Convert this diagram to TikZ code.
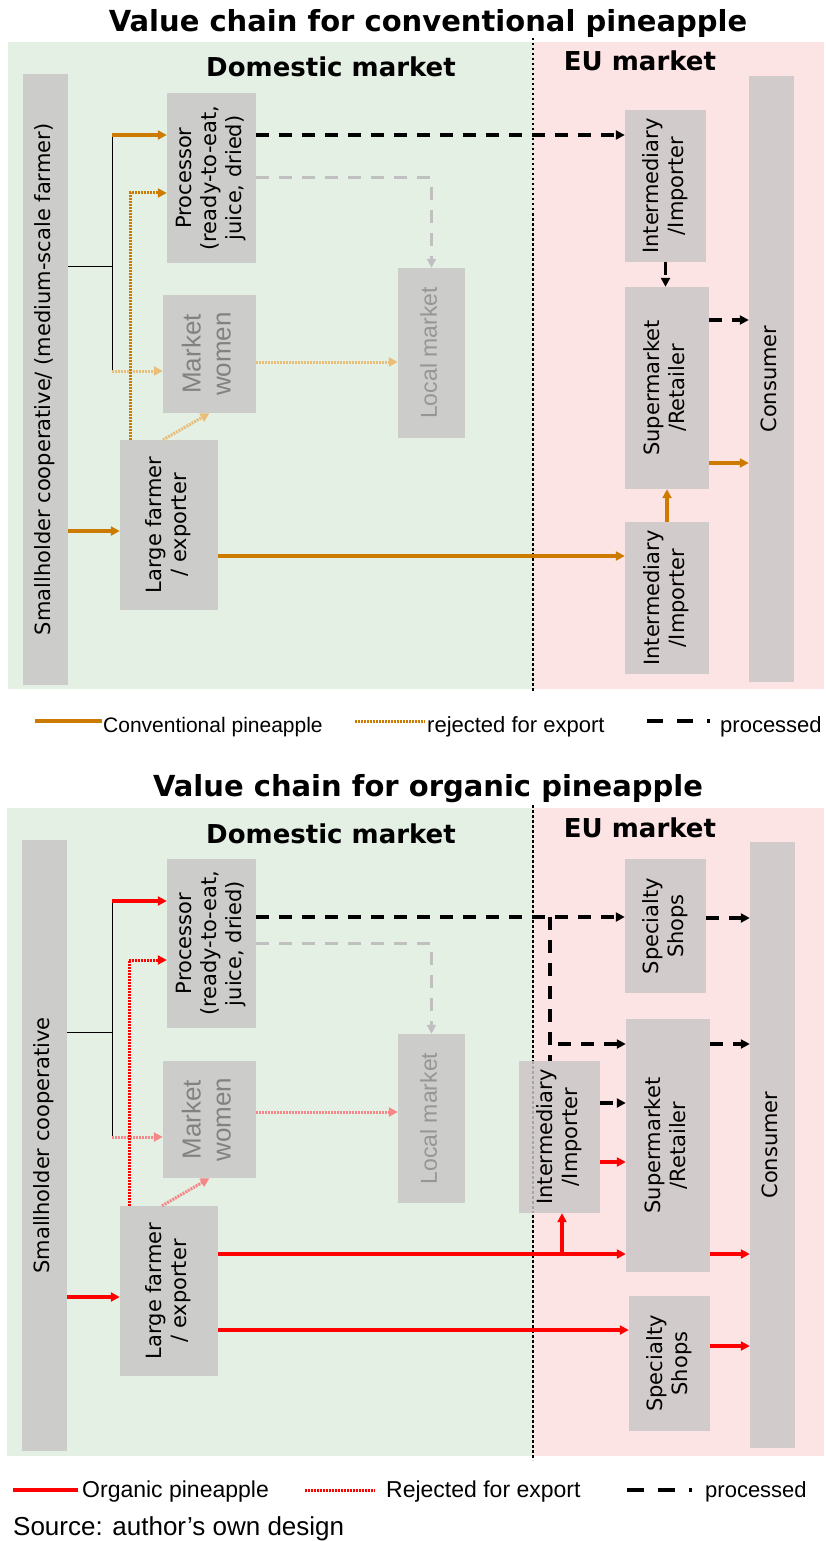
\documentclass[tikz,border=0pt]{standalone}
\usepackage{fontspec,graphicx,tikz,xcolor}
\setmainfont{DejaVu Sans}
\newfontfamily\arialfont{Liberation Sans}
\usetikzlibrary{arrows.meta}

\definecolor{dombg}{RGB}{229,240,229}
\definecolor{eubg}{RGB}{253,228,228}
\definecolor{dombox}{RGB}{204,205,203}
\definecolor{eubox}{RGB}{210,203,203}
\definecolor{convorange}{RGB}{204,122,0}
\definecolor{ltorange}{RGB}{232,190,120}
\definecolor{orgred}{RGB}{255,0,0}
\definecolor{ltred}{RGB}{244,135,135}
\definecolor{procgray}{RGB}{192,192,192}
\definecolor{txtgray}{RGB}{130,130,130}
\definecolor{lmgray}{RGB}{150,150,150}
\definecolor{bndgray}{RGB}{165,165,165}

\newcommand{\vlab}[1]{\rotatebox{90}{\begin{tabular}{@{}c@{}}#1\end{tabular}}}

\begin{document}
\begin{tikzpicture}[x=1pt,y=-1pt,
    dbox/.style={fill=dombox,inner sep=0pt,font=\fontsize{21}{25}\selectfont},
    ebox/.style={fill=eubox,inner sep=0pt,font=\fontsize{21}{25}\selectfont},
    gbox/.style={fill=dombox,inner sep=0pt,text=txtgray,font=\arialfont\fontsize{26}{30}\selectfont},
    mtitle/.style={anchor=base,inner sep=0pt,font=\fontsize{29}{34}\selectfont\bfseries},
    mhead/.style={anchor=base,inner sep=0pt,font=\fontsize{26}{30}\selectfont\bfseries},
    legtext/.style={anchor=base west,inner sep=0pt,font=\arialfont\fontsize{22}{26}\selectfont},
    arrowhd/.style={-{Triangle[length=9pt,width=9pt]}},
    conv/.style={draw=#1,line width=3.5pt,arrowhd},conv/.default=convorange,
    rej/.style={draw=#1,line width=3pt,dash pattern=on 2pt off 1pt,arrowhd},rej/.default=convorange,
    rejlt/.style={draw=#1,line width=3pt,dash pattern=on 2pt off 1pt,arrowhd},rejlt/.default=ltorange,
    procline/.style={draw=black,line width=3.5pt,dash pattern=on 13pt off 10pt},
    proc/.style={procline,arrowhd},
    lgray/.style={draw=procgray,line width=3pt,dash pattern=on 13pt off 10pt,arrowhd},
    bus/.style={draw=black,line width=1pt},
    bound/.style={draw=black,line width=2.5pt,dash pattern=on 2.5pt off 2.5pt}]
\useasboundingbox (0,0) rectangle (826,1541);

% conventional
\fill[dombg] (8,42) rectangle (533,689);
\fill[eubg] (533,42) rectangle (824,689);
\draw[bound] (533,38) -- (533,692);

\node[mtitle] (ti1) at (428,32) {Value chain for conventional pineapple};
\node[mhead] (dm1) at (331,77) {Domestic market};
\node[mhead] (eu1) at (640,71) {EU market};

\node[dbox,minimum width=45pt,minimum height=611pt] (sc1) at (45.5,379.5) {\vlab{Smallholder cooperative/ (medium-scale farmer)}};
\node[dbox,minimum width=89pt,minimum height=170pt] (pr1) at (211.5,178) {\vlab{Processor\\(ready-to-eat,\\juice, dried)}};
\node[gbox,minimum width=93pt,minimum height=118pt] (mw1) at (209.5,354) {\vlab{Market\\women}};
\node[gbox,text=lmgray,font=\arialfont\fontsize{23}{27}\selectfont,minimum width=67pt,minimum height=170pt] (lm1) at (431.5,353) {\vlab{Local market}};
\node[dbox,minimum width=98pt,minimum height=170pt] (lf1) at (169,525) {\vlab{Large farmer\\/ exporter}};
\node[ebox,minimum width=81pt,minimum height=152pt] (im1) at (665.5,186) {\vlab{Intermediary\\/Importer}};
\node[ebox,minimum width=84pt,minimum height=202pt] (su1) at (667,388) {\vlab{Supermarket\\/Retailer}};
\node[ebox,minimum width=84pt,minimum height=152pt] (ib1) at (667,598) {\vlab{Intermediary\\/Importer}};
\node[ebox,minimum width=45pt,minimum height=606pt] (co1) at (771.5,379) {\vlab{Consumer}};

\coordinate (b1) at (112,135);
\coordinate (b2) at (112,266);
\coordinate (b3) at (112,371);
\coordinate (r1) at (130,193);
\draw[bus] (b2 -| sc1.east) -- (b2);
\draw[bus] (b1) -- (b3);
\draw[conv] (b1) -- (b1 -| pr1.west);
\draw[rejlt] (b3) -- (b3 -| mw1.west);
\draw[rej] (r1 |- lf1.north) -- (r1) -- (r1 -| pr1.west);
\draw[rejlt] ([xshift=-6pt]lf1.north) -- (mw1.south);
\draw[rejlt] ([yshift=-8pt]mw1.east) -- ([yshift=-9pt]lm1.west);
\draw[lgray] (pr1.east) -| (lm1.north);
\draw[proc] ([yshift=43pt]pr1.east) -- ([yshift=51pt]im1.west);
\draw[proc] (im1.south) -- (im1.south |- su1.north);
\draw[proc] ([yshift=68pt]su1.east) -- ([yshift=59pt]co1.west);
\draw[conv] ([yshift=-75pt]su1.east) -- ([yshift=-84pt]co1.west);
\draw[conv] (ib1.north) -- (su1.south);
\draw[conv] ([yshift=-31pt]lf1.east) -- ([yshift=42pt]ib1.west);
\draw[conv] ([yshift=-151.5pt]sc1.east) -- ([yshift=-6pt]lf1.west);

\draw[line width=4pt,convorange] (35,721) -- (102,721);
\node[legtext,font=\arialfont\fontsize{21}{25}\selectfont] (lg1) at (103,732) {Conventional pineapple};
\draw[line width=3pt,convorange,dash pattern=on 2pt off 1pt] (355,721) -- (425,721);
\node[legtext] (lg2) at (427,732) {rejected for export};
\draw[line width=3.5pt,dash pattern=on 16pt off 14pt] (647,721) -- (710,721);
\node[legtext] (lg3) at (720,732) {processed};

% organic
\fill[dombg] (7,808) rectangle (533,1456);
\fill[eubg] (533,808) rectangle (824,1456);
\draw[bound] (533,805) -- (533,1460);

\node[mtitle] (ti2) at (428,796) {Value chain for organic pineapple};
\node[mhead] (dm2) at (331,843) {Domestic market};
\node[mhead] (eu2) at (640,837) {EU market};

\node[dbox,minimum width=45pt,minimum height=611pt] (sc2) at (44.5,1145.5) {\vlab{Smallholder cooperative}};
\node[dbox,minimum width=89pt,minimum height=169pt] (pr2) at (211.5,943.5) {\vlab{Processor\\(ready-to-eat,\\juice, dried)}};
\node[gbox,minimum width=93pt,minimum height=117pt] (mw2) at (209.5,1119.5) {\vlab{Market\\women}};
\node[gbox,text=lmgray,font=\arialfont\fontsize{23}{27}\selectfont,minimum width=67pt,minimum height=169pt] (lm2) at (431.5,1118.5) {\vlab{Local market}};
\node[dbox,minimum width=98pt,minimum height=170pt] (lf2) at (169,1291) {\vlab{Large farmer\\/ exporter}};
\node[ebox,minimum width=81pt,minimum height=134pt] (ss1) at (665.5,926) {\vlab{Specialty\\Shops}};
\node[ebox,minimum width=84pt,minimum height=253pt] (su2) at (668,1145.5) {\vlab{Supermarket\\/Retailer}};
\node[ebox,minimum width=81pt,minimum height=152pt] (im2) at (559.5,1137) {\vlab{Intermediary\\/Importer}};
\node[ebox,minimum width=81pt,minimum height=135pt] (ss2) at (669.5,1363.5) {\vlab{Specialty\\Shops}};
\node[ebox,minimum width=45pt,minimum height=606pt] (co2) at (772.5,1145) {\vlab{Consumer}};
\draw[bound,draw=bndgray] (533,1061) -- (533,1213);

\coordinate (b4) at (112,901);
\coordinate (b5) at (112,1032);
\coordinate (b6) at (112,1137);
\coordinate (r2) at (129,960);
\coordinate (j1) at (550,917);
\coordinate (j2) at (558,1044);
\coordinate (j3) at (562,1254);
\draw[bus] (b5 -| sc2.east) -- (b5);
\draw[bus] (b4) -- (b6);
\draw[conv=orgred] (b4) -- (b4 -| pr2.west);
\draw[rejlt=ltred] (b6) -- (b6 -| mw2.west);
\draw[rej=orgred] (r2 |- lf2.north) -- (r2) -- (r2 -| pr2.west);
\draw[rejlt=ltred] ([xshift=-7pt]lf2.north) -- (mw2.south);
\draw[rejlt=ltred] ([yshift=7.5pt]mw2.east) -- ([yshift=6.5pt]lm2.west);
\draw[lgray] (pr2.east) -| (lm2.north);
\draw[proc] ([yshift=26.5pt]pr2.east) -- ([yshift=9pt]ss1.west);
\draw[procline] (j1) -- (j1 |- im2.north);
\draw[proc] (j2) -- (j2 -| su2.west);
\draw[proc] ([yshift=8pt]ss1.east) -- ([yshift=227pt]co2.west);
\draw[proc] ([yshift=101.5pt]su2.east) -- ([yshift=101pt]co2.west);
\draw[proc] ([yshift=34pt]im2.east) -- ([yshift=42.5pt]su2.west);
\draw[conv=orgred] ([yshift=-25pt]im2.east) -- ([yshift=-16.5pt]su2.west);
\draw[conv=orgred] ([yshift=37pt]lf2.east) -- ([yshift=-108.5pt]su2.west);
\draw[conv=orgred] (j3) -- (j3 |- im2.south);
\draw[conv=orgred] ([yshift=-39pt]lf2.east) -- ([yshift=33.5pt]ss2.west);
\draw[conv=orgred] ([yshift=-108.5pt]su2.east) -- ([yshift=-109pt]co2.west);
\draw[conv=orgred] ([yshift=17.5pt]ss2.east) -- ([yshift=-201pt]co2.west);
\draw[conv=orgred] ([yshift=-151.5pt]sc2.east) -- ([yshift=-6pt]lf2.west);

\draw[line width=4pt,orgred] (13,1490) -- (78,1490);
\node[legtext,font=\arialfont\fontsize{23}{27}\selectfont] (lg4) at (82,1497) {Organic pineapple};
\draw[line width=3pt,orgred,dash pattern=on 2pt off 1pt] (305,1490) -- (375,1490);
\node[legtext,font=\arialfont\fontsize{23}{27}\selectfont] (lg5) at (386,1497) {Rejected for export};
\draw[line width=3.5pt,dash pattern=on 17pt off 14pt] (627,1490) -- (692,1490);
\node[legtext] (lg6) at (705,1497) {processed};
\node[legtext,font=\arialfont\fontsize{26}{30}\selectfont] (src) at (13,1535) {Source: author’s own design};
\end{tikzpicture}
\end{document}
